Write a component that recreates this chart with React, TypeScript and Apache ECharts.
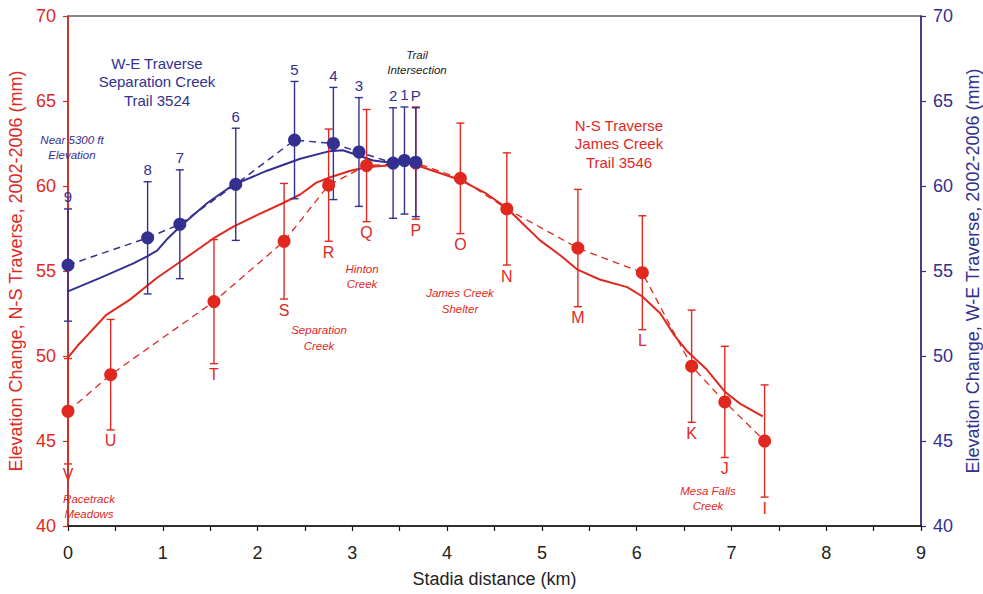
import React, { useEffect, useRef } from "react";
import * as echarts from "echarts";

// N-S Traverse (James Creek, Trail 3546) survey points
const nsDist = [0, 0.45, 1.54, 2.28, 2.75, 3.15, 3.67, 4.14, 4.63, 5.38, 6.06, 6.58, 6.93, 7.35];
const nsLabels = ["V", "U", "T", "S", "R", "Q", "P", "O", "N", "M", "L", "K", "J", "I"];
const nsValue = [46.75, 48.9, 53.2, 56.75, 60.05, 61.2, 61.35, 60.45, 58.65, 56.35, 54.9, 49.4, 47.3, 45.0];
const nsErr = [3.1, 3.25, 3.65, 3.4, 3.3, 3.3, 3.3, 3.25, 3.3, 3.45, 3.35, 3.3, 3.27, 3.3];

// W-E Traverse (Separation Creek, Trail 3524) survey points
const weDist = [0, 0.84, 1.18, 1.77, 2.39, 2.8, 3.07, 3.43, 3.55, 3.67];
const weLabels = ["9", "8", "7", "6", "5", "4", "3", "2", "1", "P"];
const weValue = [55.35, 56.95, 57.75, 60.1, 62.7, 62.5, 62.0, 61.35, 61.5, 61.4];
const weErr = [3.3, 3.3, 3.2, 3.3, 3.45, 3.3, 3.2, 3.25, 3.15, 3.2];

// Smoothed trend curves
const nsTrendX = [0, 0.1, 0.2, 0.4, 0.65, 0.94, 1.2, 1.53, 1.74, 2.0, 2.27, 2.45, 2.62, 2.76, 2.98, 3.15, 3.37, 3.61, 3.85, 4.14, 4.4, 4.63, 4.98, 5.2, 5.37, 5.61, 5.9, 6.06, 6.25, 6.4, 6.53, 6.74, 6.93, 7.09, 7.33];
const nsTrendY = [49.9, 50.6, 51.2, 52.4, 53.3, 54.6, 55.6, 56.9, 57.6, 58.3, 59.0, 59.5, 60.2, 60.5, 60.9, 61.1, 61.2, 61.35, 60.9, 60.35, 59.6, 58.7, 56.8, 55.9, 55.1, 54.5, 54.05, 53.5, 52.5, 51.2, 50.3, 49.2, 47.9, 47.2, 46.45];
const weTrendX = [0, 0.34, 0.69, 0.83, 0.94, 1.05, 1.18, 1.47, 1.74, 2.1, 2.45, 2.76, 2.9, 3.01, 3.22, 3.43, 3.67];
const weTrendY = [53.8, 54.6, 55.45, 55.85, 56.2, 56.9, 57.6, 59.0, 60.05, 60.9, 61.6, 62.05, 62.1, 61.9, 61.5, 61.35, 61.35];

// Axis ticks
const xMin = 0, xMax = 9, xStep = 1;
const yMin = 40, yMax = 70, yStep = 5;

const RED = "#e0281f";
const BLUE = "#33308f";
const FONT = '"Liberation Sans", Arial, Helvetica, sans-serif';

function errorBarSeries(dist: number[], val: number[], err: number[], labels: string[], color: string, yAxisIndex: number, below: boolean, labelSize: number) {
  return {
    type: "custom",
    yAxisIndex,
    z: 3,
    data: dist.map((d, i) => [d, val[i], err[i]]),
    renderItem: (params: any, api: any) => {
      const x = api.value(0), y = api.value(1), e = api.value(2);
      const top = api.coord([x, y + e]);
      const bot = api.coord([x, y - e]);
      const cw = 4;
      const ls = { stroke: color, lineWidth: 1.4 };
      const lab = labels[params.dataIndex];
      return {
        type: "group",
        children: [
          { type: "line", shape: { x1: top[0], y1: top[1], x2: bot[0], y2: bot[1] }, style: ls },
          { type: "line", shape: { x1: top[0] - cw, y1: top[1], x2: top[0] + cw, y2: top[1] }, style: ls },
          { type: "line", shape: { x1: bot[0] - cw, y1: bot[1], x2: bot[0] + cw, y2: bot[1] }, style: ls },
          {
            type: "text",
            x: top[0],
            y: below ? bot[1] + 11 : top[1] - 12,
            style: { text: lab, fill: color, fontSize: labelSize, fontFamily: FONT, align: "center", verticalAlign: "middle" },
          },
        ],
      };
    },
  };
}

function note(x: number, y: number, text: string, color: string, size: number, lh: number, italic: boolean) {
  return {
    type: "text",
    x,
    y,
    z: 10,
    style: {
      text,
      fill: color,
      fontSize: size,
      fontFamily: FONT,
      fontStyle: italic ? "italic" : "normal",
      lineHeight: lh,
      align: "center",
      verticalAlign: "middle",
    },
  };
}

export default function App() {
  const ref = useRef<HTMLDivElement>(null);
  useEffect(() => {
    if (!ref.current) return;
    const chart = echarts.init(ref.current, null, { renderer: "svg" });
    const yAxisBase = (color: string, position: string, name: string, gap: number) => ({
      type: "value",
      position,
      min: yMin,
      max: yMax,
      interval: yStep,
      name,
      nameLocation: "middle",
      nameGap: gap,
      nameTextStyle: { color, fontSize: 18, fontFamily: FONT },
      axisLine: { show: true, lineStyle: { color, width: 1.5 } },
      axisTick: { show: true, length: 5, lineStyle: { color, width: 1.2 } },
      axisLabel: { color, fontSize: 18, fontFamily: FONT, margin: 12 },
      splitLine: { show: false },
    });
    chart.setOption({
      animation: false,
      backgroundColor: "#fff",
      grid: {
        left: 68, right: 62, top: 16, bottom: 68,
        containLabel: false, outerBoundsMode: "none",
        show: true, borderColor: "#111", borderWidth: 1.2,
      },
      xAxis: {
        type: "value",
        min: xMin,
        max: xMax,
        interval: xStep,
        name: "Stadia distance (km)",
        nameLocation: "middle",
        nameGap: 44,
        nameTextStyle: { color: "#222", fontSize: 18, fontFamily: FONT },
        axisLine: { lineStyle: { color: "#111", width: 1.5 } },
        axisTick: { show: true, length: 5, lineStyle: { color: "#111", width: 1.2 } },
        minorTick: { show: true, splitNumber: 2, length: 5, lineStyle: { color: "#111", width: 1.2 } },
        axisLabel: { color: "#222", fontSize: 18, fontFamily: FONT, margin: 18 },
        splitLine: { show: false },
        minorSplitLine: { show: false },
      },
      yAxis: [
        yAxisBase(RED, "left", "Elevation Change, N-S Traverse, 2002-2006 (mm)", 40),
        yAxisBase(BLUE, "right", "Elevation Change, W-E Traverse, 2002-2006 (mm)", 41),
      ],
      series: [
        {
          type: "line",
          yAxisIndex: 0,
          data: nsTrendX.map((x, i) => [x, nsTrendY[i]]),
          showSymbol: false,
          symbol: "none",
          lineStyle: { color: RED, width: 2 },
          z: 2,
        },
        {
          type: "line",
          yAxisIndex: 1,
          data: weTrendX.map((x, i) => [x, weTrendY[i]]),
          showSymbol: false,
          symbol: "none",
          lineStyle: { color: BLUE, width: 2 },
          z: 2,
        },
        {
          type: "line",
          yAxisIndex: 0,
          data: nsDist.map((x, i) => [x, nsValue[i]]),
          symbol: "none",
          lineStyle: { color: RED, width: 1.3, type: [7, 5] },
          z: 2,
        },
        {
          type: "line",
          yAxisIndex: 1,
          data: weDist.map((x, i) => [x, weValue[i]]),
          symbol: "none",
          lineStyle: { color: BLUE, width: 1.5, type: [7, 5] },
          z: 2,
        },
        errorBarSeries(nsDist, nsValue, nsErr, nsLabels, RED, 0, true, 16),
        errorBarSeries(weDist, weValue, weErr, weLabels, BLUE, 1, false, 15),
        {
          type: "scatter",
          yAxisIndex: 0,
          data: nsDist.map((x, i) => [x, nsValue[i]]),
          symbolSize: 13,
          itemStyle: { color: RED, opacity: 1 },
          z: 4,
        },
        {
          type: "scatter",
          yAxisIndex: 1,
          data: weDist.map((x, i) => [x, weValue[i]]),
          symbolSize: 13,
          itemStyle: { color: BLUE, opacity: 1 },
          z: 5,
        },
      ],
      graphic: [
        note(157, 81.5, "W-E Traverse\nSeparation Creek\nTrail 3524", BLUE, 15, 18.5, false),
        note(619, 143.5, "N-S Traverse\nJames Creek\nTrail 3546", RED, 15, 18.5, false),
        note(72, 147.5, "Near 5300 ft\nElevation", BLUE, 11.5, 15, true),
        note(417, 62.5, "Trail\nIntersection", "#222", 11.5, 15, true),
        note(362, 276, "Hinton\nCreek", RED, 11.5, 15, true),
        note(460, 301, "James Creek\nShelter", RED, 11.5, 15.5, true),
        note(319, 338, "Separation\nCreek", RED, 11.5, 16, true),
        note(89, 506.5, "Racetrack\nMeadows", RED, 11.5, 15, true),
        note(708, 498.5, "Mesa Falls\nCreek", RED, 11.5, 15, true),
      ],
    });
    return () => chart.dispose();
  }, []);
  return <div ref={ref} style={{ position: "absolute", left: 0, top: 0, width: 983, height: 594 }} />;
}
